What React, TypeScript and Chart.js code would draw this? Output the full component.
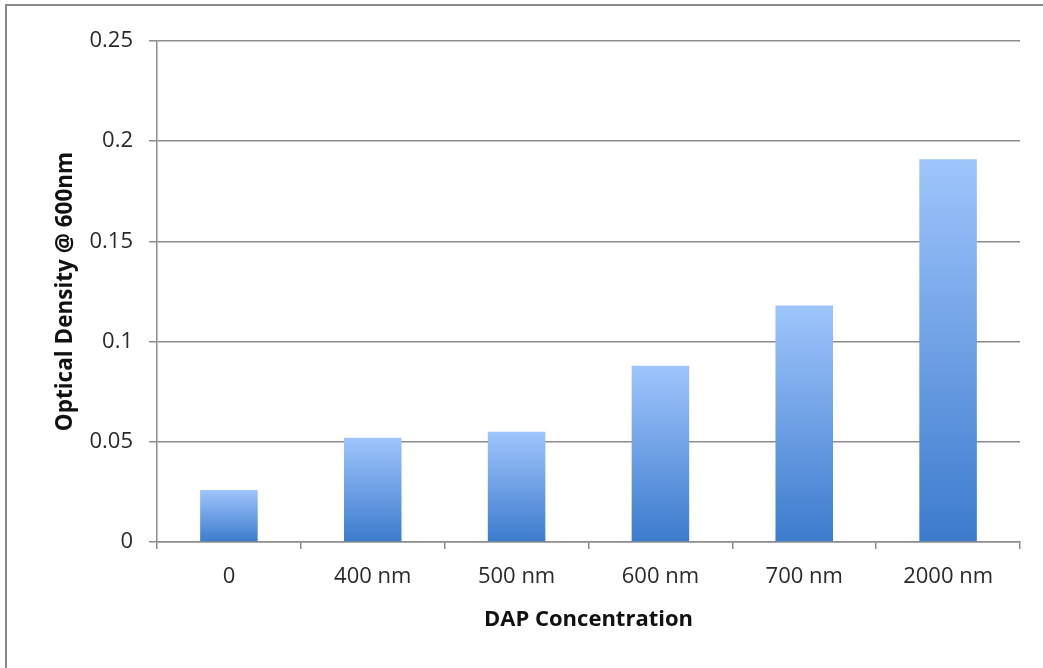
import React, { useEffect, useRef } from "react";
import { Chart, registerables } from "chart.js";

Chart.register(...registerables);

const categories = ["0", "400 nm", "500 nm", "600 nm", "700 nm", "2000 nm"];
const values = [0.026, 0.052, 0.055, 0.088, 0.118, 0.191];
const yTicks = [0, 0.05, 0.1, 0.15, 0.2, 0.25];
const xTitle = "DAP Concentration";
const yTitle = "Optical Density @ 600nm";

const FONT = "'Open Sans', 'Liberation Sans', sans-serif";

export default function App() {
  const ref = useRef<HTMLCanvasElement | null>(null);

  useEffect(() => {
    document.body.style.margin = "0";
    const canvas = ref.current;
    if (!canvas) return;
    const chart = new Chart(canvas, {
      type: "bar",
      data: {
        labels: categories,
        datasets: [
          {
            data: values,
            backgroundColor: (ctx: any) => {
              const c = ctx.chart;
              const ys = c.scales && c.scales.y;
              if (!ys || ctx.raw == null || !c.chartArea) return "#6a9fe6";
              const top = ys.getPixelForValue(ctx.raw as number);
              const bottom = ys.getPixelForValue(0);
              if (!isFinite(top) || !isFinite(bottom) || top === bottom) return "#6a9fe6";
              const g = c.ctx.createLinearGradient(0, top, 0, bottom);
              g.addColorStop(0, "#9fc5fc");
              g.addColorStop(1, "#3c7bcd");
              return g;
            },
            borderWidth: 0,
            barPercentage: 0.4,
            categoryPercentage: 1,
          },
        ],
      },
      options: {
        animation: false,
        responsive: false,
        devicePixelRatio: 1,
        layout: { padding: { left: 0, top: 41, right: 23, bottom: 0 } },
        plugins: { legend: { display: false }, tooltip: { enabled: false } },
        scales: {
          x: {
            offset: true,
            grid: {
              display: true,
              drawOnChartArea: false,
              drawTicks: true,
              tickLength: 7,
              color: "#8c8c8c",
              lineWidth: 1.5,
              offset: true,
            },
            border: { display: true, color: "#8c8c8c", width: 1.5 },
            ticks: {
              color: "#2a2a2a",
              font: { family: FONT, size: 22 },
              padding: 15,
              maxRotation: 0,
            },
            title: {
              display: true,
              text: xTitle,
              color: "#111111",
              font: { family: FONT, size: 22, weight: "bold" },
              padding: { top: 0, bottom: 35 },
            },
            afterFit: (s: any) => {
              s.height = 126;
            },
          },
          y: {
            min: 0,
            max: 0.25,
            afterBuildTicks: (s: any) => {
              s.ticks = yTicks.map((v) => ({ value: v }));
            },
            grid: {
              color: "#8c8c8c",
              lineWidth: 1.5,
              drawTicks: true,
              tickLength: 8,
            },
            border: { display: true, color: "#8c8c8c", width: 1.5 },
            ticks: {
              color: "#2a2a2a",
              font: { family: FONT, size: 22 },
              padding: 16,
              callback: (v: any) => String(v),
            },
            title: {
              display: true,
              text: yTitle,
              color: "#111111",
              font: { family: FONT, size: 22.5, weight: "bold" },
              padding: { top: 52, bottom: 0 },
            },
            afterFit: (s: any) => {
              s.width = 157;
            },
          },
        },
      },
    });
    return () => chart.destroy();
  }, []);

  return (
    <div style={{ position: "relative", width: 1043, height: 668, background: "#fff", overflow: "hidden" }}>
      <div
        style={{
          position: "absolute",
          left: 5,
          top: 4,
          right: -20,
          bottom: -20,
          borderTop: "2px solid #8a8a8a",
          borderLeft: "2px solid #8a8a8a",
          pointerEvents: "none",
        }}
      />
      <canvas ref={ref} width={1043} height={668} style={{ position: "absolute", left: 0, top: 0 }} />
    </div>
  );
}
